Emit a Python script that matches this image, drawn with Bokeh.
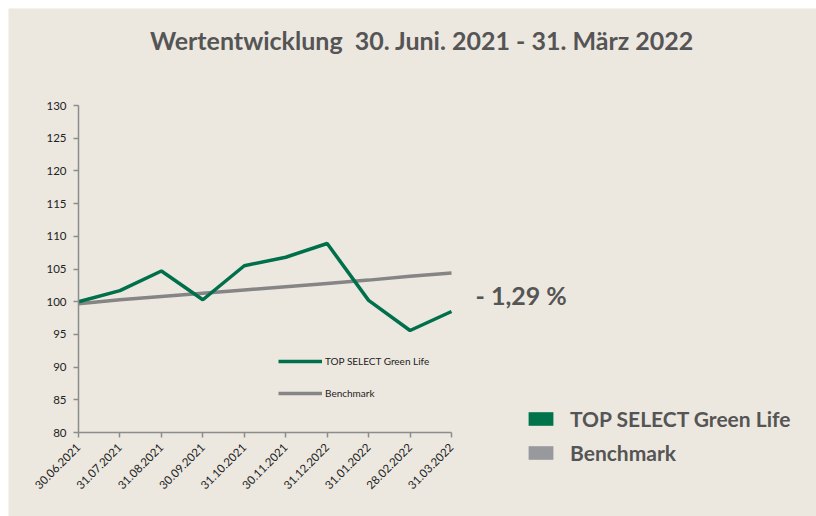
from bokeh.plotting import figure
from bokeh.models import Range1d, FixedTicker, Legend, LegendItem, ColumnDataSource, Spacer, Label
from bokeh.layouts import row, column
from bokeh.embed import file_html
from bokeh.resources import INLINE
import math

dates = ["30.06.2021", "31.07.2021", "31.08.2021", "30.09.2021", "31.10.2021",
         "30.11.2021", "31.12.2022", "31.01.2022", "28.02.2022", "31.03.2022"]
fund = [100.0, 101.7, 104.7, 100.3, 105.5, 106.8, 108.9, 100.2, 95.6, 98.5]
bench = [99.7, 100.3, 100.8, 101.3, 101.8, 102.3, 102.8, 103.3, 103.9, 104.4]
y_ticks = [80, 85, 90, 95, 100, 105, 110, 115, 120, 125, 130]
series_names = ["TOP SELECT Green Life", "Benchmark"]
title_text = "Wertentwicklung\u00a0 30. Juni. 2021 - 31. März 2022"
perf_text = "- 1,29 %"

GREEN = "#006f4b"
GREEN_SQ = "#00734a"
GRAY_LINE = "#858585"
GRAY_SQ = "#98999d"
TEXT = "#555555"
BG = "#ece8e0"

# ---- layout (pixels inside the 808x508 canvas)
W, H = 808, 508
PL, PR, PT, PB = 70, 443, 97, 424   # plotting area of the line chart
Y0, Y1 = 80, 130
n = len(dates)
ux = (PR - PL) / (n - 1)            # px per category step
uy = (PB - PT) / (Y1 - Y0)          # px per value unit
x_start = -PL / ux
x_end = (n - 1) + (W - PR) / ux
y_start = Y0 - (H - PB) / uy
y_end = Y1 + PT / uy


def px_x(px):
    return x_start + px / ux


def px_y(py):
    return y_end - py / uy


idx = list(range(n))

p = figure(width=W, height=H, output_backend="svg", toolbar_location=None,
           x_range=Range1d(x_start, x_end), y_range=Range1d(y_start, y_end),
           min_border=0, min_border_left=0, min_border_right=0,
           min_border_top=0, min_border_bottom=0)
p.background_fill_color = BG
p.border_fill_color = BG
p.outline_line_color = None
p.grid.visible = False

p.xaxis.ticker = FixedTicker(ticks=idx)
p.xaxis.major_label_overrides = {i: d for i, d in enumerate(dates)}
p.xaxis.major_label_orientation = math.pi / 4
p.xaxis.fixed_location = Y0
p.xaxis.bounds = (0, n - 1)
p.yaxis.ticker = FixedTicker(ticks=y_ticks)
p.yaxis.fixed_location = 0
p.yaxis.bounds = (Y0, Y1)
for ax in (p.xaxis, p.yaxis):
    ax.axis_line_color = "#8c8c8c"
    ax.axis_line_width = 1.5
    ax.major_tick_line_color = "#8c8c8c"
    ax.major_tick_line_width = 1.5
    ax.major_tick_in = 0
    ax.major_tick_out = 5
    ax.minor_tick_line_color = None
    ax.major_label_text_font = "Lato"
    ax.major_label_text_font_size = "11.5px"
    ax.major_label_text_color = "#222222"
p.yaxis.major_label_standoff = 7
p.xaxis.major_label_standoff = 8

src = ColumnDataSource(dict(x=idx, fund=fund, bench=bench))
r_bench = p.line("x", "bench", source=src, line_color=GRAY_LINE, line_width=3.5)
r_fund = p.line("x", "fund", source=src, line_color=GREEN, line_width=3.5)

inner = Legend(items=[LegendItem(label=series_names[0], renderers=[r_fund]),
                      LegendItem(label=series_names[1], renderers=[r_bench])],
               location=(270, 117), orientation="vertical")
inner.glyph_width = 44
inner.glyph_height = 12
inner.label_height = 12
inner.spacing = 20
inner.padding = 0
inner.margin = 0
inner.label_standoff = 3
inner.label_text_font = "Lato"
inner.label_text_font_size = "10px"
inner.label_text_color = "#222222"
inner.background_fill_alpha = 0
inner.border_line_alpha = 0
p.add_layout(inner, "center")

# title and performance figure
p.add_layout(Label(x=px_x(413.5), y=px_y(31), text=title_text, text_align="center",
                   text_baseline="middle", text_font="Lato", text_font_style="bold",
                   text_font_size="25px", text_color=TEXT))
p.add_layout(Label(x=px_x(467), y=px_y(286), text=perf_text, text_align="left",
                   text_baseline="middle", text_font="Lato", text_font_style="bold",
                   text_font_size="25px", text_color=TEXT))

# outer legend with square swatches (zero-size bars, never visible in the chart)
r_sq1 = p.vbar(x=[0], bottom=[Y0], top=[Y0], width=0, fill_color=GREEN_SQ, line_color=None)
r_sq2 = p.vbar(x=[0], bottom=[Y0], top=[Y0], width=0, fill_color=GRAY_SQ, line_color=None)
outer = Legend(items=[LegendItem(label=series_names[0], renderers=[r_sq1]),
                      LegendItem(label=series_names[1], renderers=[r_sq2])],
               location=(517, 51), orientation="vertical")
outer.glyph_width = 31
outer.glyph_height = 17
outer.label_height = 25
outer.spacing = 9
outer.padding = 0
outer.margin = 0
outer.label_standoff = 14
outer.label_text_font = "Lato"
outer.label_text_font_style = "bold"
outer.label_text_font_size = "21px"
outer.label_text_color = TEXT
outer.background_fill_alpha = 0
outer.border_line_alpha = 0
p.add_layout(outer, "center")

layout = row(Spacer(width=8, height=516), column(Spacer(width=808, height=8), p))

open("out.html", "w").write(file_html(layout, INLINE))
